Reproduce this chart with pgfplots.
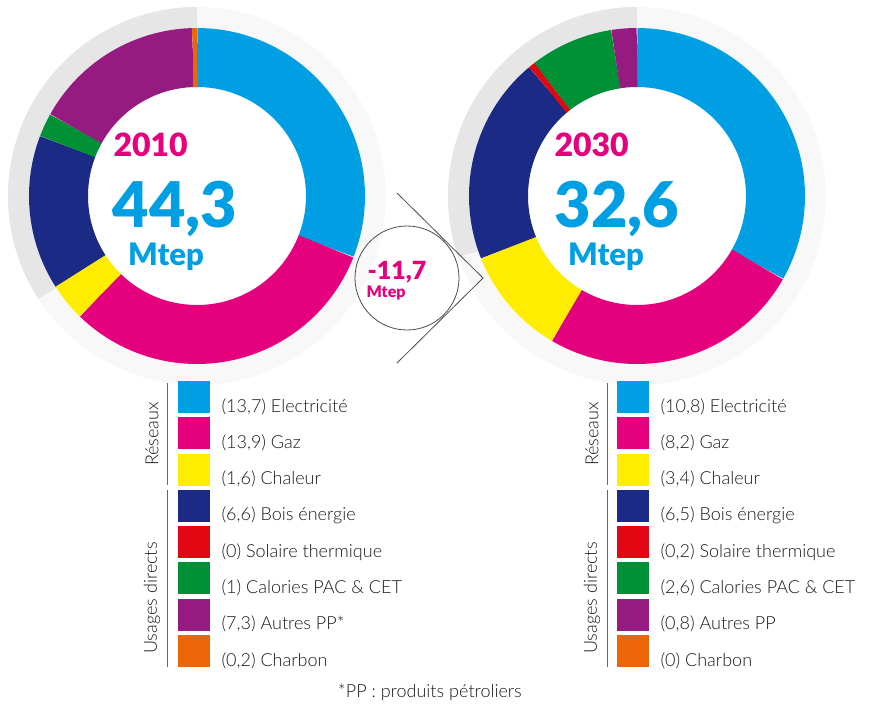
\documentclass[border=0pt]{standalone}
\usepackage{pgfplots}
\pgfplotsset{compat=1.18}
\usepackage{fontspec}
\setmainfont{Lato}
\newfontfamily\lightfont{Lato Light}
\newfontfamily\heavyfont{Lato Black}

\definecolor{cElec}{HTML}{009FE3}
\definecolor{cGaz}{HTML}{E5007D}
\definecolor{cChal}{HTML}{FFED00}
\definecolor{cBois}{HTML}{1B2A84}
\definecolor{cSol}{HTML}{E30613}
\definecolor{cCal}{HTML}{009036}
\definecolor{cPP}{HTML}{951B81}
\definecolor{cCharb}{HTML}{EC6608}
\definecolor{ringgrey}{HTML}{E6E6E6}
\definecolor{ringfaint}{HTML}{F8F8F8}
\definecolor{txt}{HTML}{1A1A1A}

% Mtep, clockwise from 12 o'clock: value/colour
\def\dataA{13.7/cElec,13.9/cGaz,1.6/cChal,6.6/cBois,0/cSol,1/cCal,7.3/cPP,0.2/cCharb}
\def\dataB{10.8/cElec,8.2/cGaz,3.4/cChal,6.5/cBois,0.2/cSol,2.6/cCal,0.8/cPP,0/cCharb}

% #1 cx, #2 cy, #3 data
\newcommand\donut[3]{%
  \gdef\tot{0}%
  \foreach \v/\c in #3 {\pgfmathsetmacro\t{\tot+\v}\xdef\tot{\t}}%
  \gdef\cum{0}%
  \foreach \v/\c in #3 {%
    \pgfmathsetmacro\s{90-360*\cum/\tot}%
    \pgfmathsetmacro\n{\cum+\v}%
    \pgfmathsetmacro\e{90-360*\n/\tot}%
    \xdef\cum{\n}%
    \ifdim\v pt>0pt
      \edef\tmp{\noexpand\addplot[draw=\c, line width=59, domain=\e:\s, samples=60]
        ({#1+138.5*cos(x)},{#2-138.5*sin(x)});}\tmp
    \fi
  }%
}
% #1 cx, #2 cy, #3 end angle of the grey part
\newcommand\backring[3]{%
  \addplot[draw=ringfaint, line width=21, domain=0:360, samples=120] ({#1+178.5*cos(x)},{#2-178.5*sin(x)});
  \addplot[draw=ringgrey, line width=21, domain=90:#3, samples=80] ({#1+178.5*cos(x)},{#2-178.5*sin(x)});
}
% square centre x, y, colour, text
\newcommand\legrow[4]{%
  \addplot[only marks, mark=square*, mark size=15.5, color=#3, line width=1] coordinates {(#1,#2)};
  \node[anchor=base west, text=txt, font=\lightfont\fontsize{18}{18}\selectfont]
    at (axis cs:#1+24,#2+15) {#4};
}

\begin{document}
\begin{tikzpicture}
\begin{axis}[
  hide axis, scale only axis,
  width=875pt, height=704pt,
  xmin=0, xmax=875, ymin=0, ymax=704,
  y dir=reverse, clip=false]
\path (axis cs:0,0) rectangle (axis cs:875,704);

\backring{197}{196}{213}
\backring{637}{196}{199}
\donut{197}{196}{\dataA}
\donut{637}{196}{\dataB}

% centre labels
\node[anchor=base west, text=cGaz, font=\heavyfont\fontsize{32}{32}\selectfont] at (axis cs:110,156) {2010};
\node[anchor=base, text=cElec, font=\heavyfont\fontsize{63}{63}\selectfont] at (axis cs:175,227) {44,3};
\node[anchor=base, text=cElec, font=\heavyfont\fontsize{31}{31}\selectfont] at (axis cs:166,265) {Mtep};
\node[anchor=base west, text=cGaz, font=\heavyfont\fontsize{32}{32}\selectfont] at (axis cs:551,156) {2030};
\node[anchor=base, text=cElec, font=\heavyfont\fontsize{63}{63}\selectfont] at (axis cs:617,227) {32,6};
\node[anchor=base, text=cElec, font=\heavyfont\fontsize{31}{31}\selectfont] at (axis cs:606,265) {Mtep};

% difference marker
\draw[black!70, line width=0.8] (axis cs:397,193) -- (axis cs:483,278) -- (axis cs:397,363);
\draw[black!70, line width=0.8] (axis cs:407,278) circle[radius=52];
\node[anchor=base west, text=cGaz, font=\heavyfont\fontsize{25}{25}\selectfont] at (axis cs:364,279) {-11,7};
\node[anchor=base west, text=cGaz, font=\heavyfont\fontsize{16}{16}\selectfont] at (axis cs:363,297) {Mtep};

% legends
\legrow{194}{397}{cElec}{(13,7) Electricité}
\legrow{194}{433.3}{cGaz}{(13,9) Gaz}
\legrow{194}{469.6}{cChal}{(1,6) Chaleur}
\legrow{194}{505.9}{cBois}{(6,6) Bois énergie}
\legrow{194}{542.1}{cSol}{(0) Solaire thermique}
\legrow{194}{578.4}{cCal}{(1) Calories PAC \& CET}
\legrow{194}{614.7}{cPP}{(7,3) Autres PP*}
\legrow{194}{651}{cCharb}{(0,2) Charbon}

\legrow{633}{397}{cElec}{(10,8) Electricité}
\legrow{633}{433.3}{cGaz}{(8,2) Gaz}
\legrow{633}{469.6}{cChal}{(3,4) Chaleur}
\legrow{633}{505.9}{cBois}{(6,5) Bois énergie}
\legrow{633}{542.1}{cSol}{(0,2) Solaire thermique}
\legrow{633}{578.4}{cCal}{(2,6) Calories PAC \& CET}
\legrow{633}{614.7}{cPP}{(0,8) Autres PP}
\legrow{633}{651}{cCharb}{(0) Charbon}

% group brackets
\draw[black!60, line width=1] (axis cs:167,383) -- (axis cs:167,485);
\draw[black!60, line width=1] (axis cs:167,490) -- (axis cs:167,667);
\draw[black!60, line width=1] (axis cs:607,383) -- (axis cs:607,485);
\draw[black!60, line width=1] (axis cs:607,490) -- (axis cs:607,667);
\node[rotate=90, text=txt, font=\lightfont\fontsize{18}{18}\selectfont] at (axis cs:152,434) {Réseaux};
\node[rotate=90, text=txt, font=\lightfont\fontsize{18}{18}\selectfont] at (axis cs:152,598) {Usages directs};
\node[rotate=90, text=txt, font=\lightfont\fontsize{18}{18}\selectfont] at (axis cs:592,434) {Réseaux};
\node[rotate=90, text=txt, font=\lightfont\fontsize{18}{18}\selectfont] at (axis cs:592,598) {Usages directs};

\node[anchor=base, text=txt, font=\lightfont\fontsize{18}{18}\selectfont] at (axis cs:430,697) {*PP : produits pétroliers};
\end{axis}
\end{tikzpicture}
\end{document}
